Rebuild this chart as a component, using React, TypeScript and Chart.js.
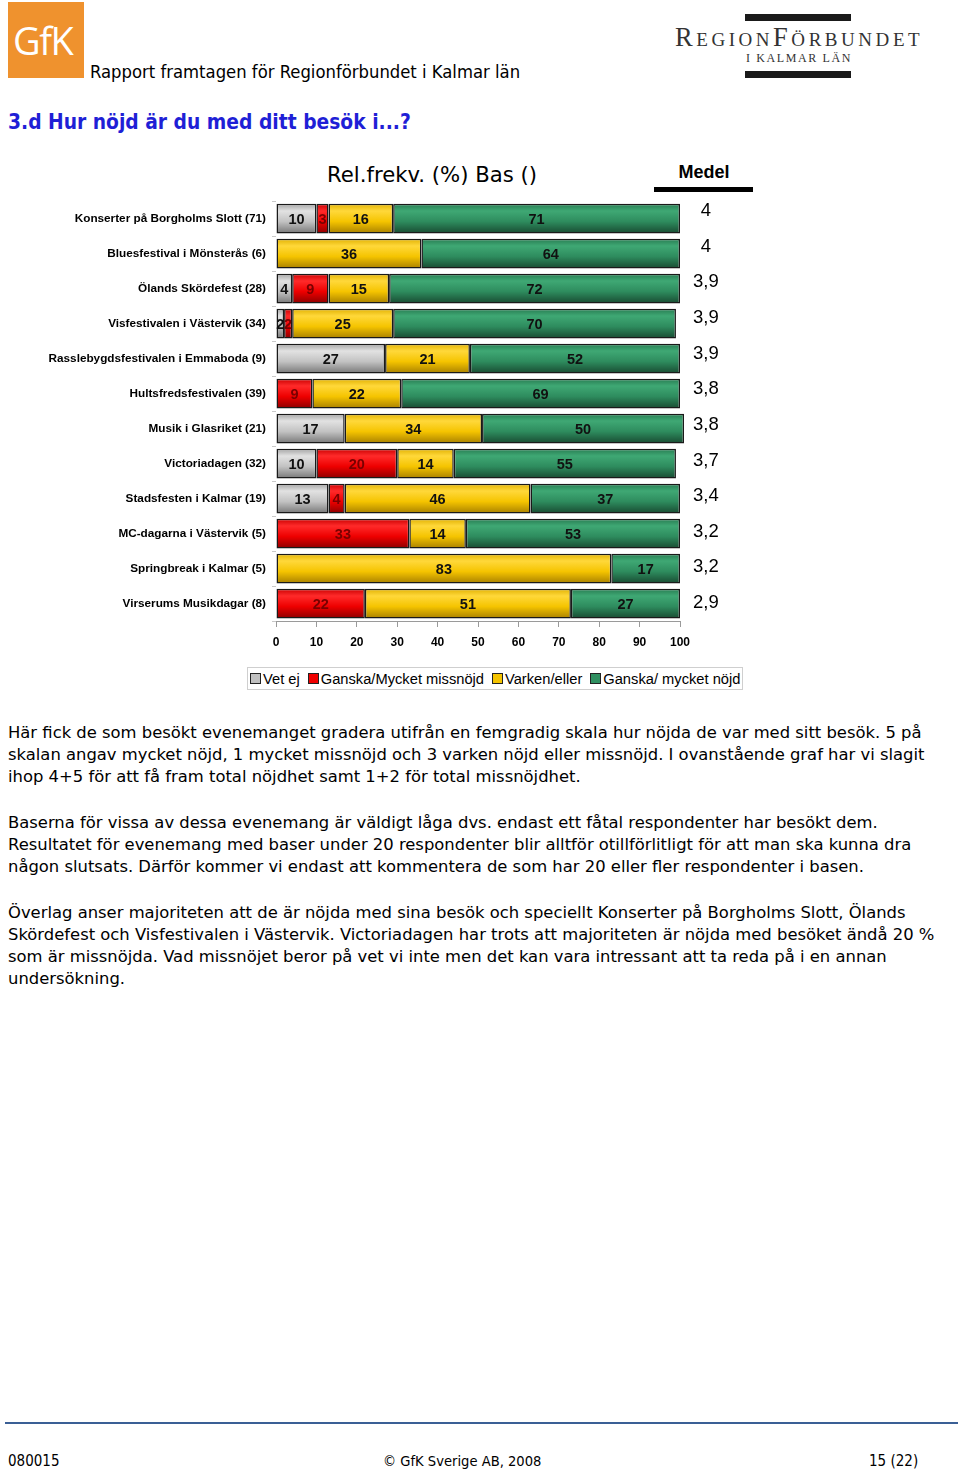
import React, { useEffect, useRef } from 'react';
import { Chart, registerables } from 'chart.js';

Chart.register(...registerables);

// ---------- DATA ----------
const categories = [
  'Konserter på Borgholms Slott (71)',
  'Bluesfestival i Mönsterås (6)',
  'Ölands Skördefest (28)',
  'Visfestivalen i Västervik (34)',
  'Rasslebygdsfestivalen i Emmaboda (9)',
  'Hultsfredsfestivalen (39)',
  'Musik i Glasriket (21)',
  'Victoriadagen (32)',
  'Stadsfesten i Kalmar (19)',
  'MC-dagarna i Västervik (5)',
  'Springbreak i Kalmar (5)',
  'Virserums Musikdagar (8)',
];
const vetEj = [10, 0, 4, 2, 27, 0, 17, 10, 13, 0, 0, 0];
const missnojd = [3, 0, 9, 2, 0, 9, 0, 20, 4, 33, 0, 22];
const varken = [16, 36, 15, 25, 21, 22, 34, 14, 46, 14, 83, 51];
const nojd = [71, 64, 72, 70, 52, 69, 50, 55, 37, 53, 17, 27];
const medel = ['4', '4', '3,9', '3,9', '3,9', '3,8', '3,8', '3,7', '3,4', '3,2', '3,2', '2,9'];
const seriesNames = ['Vet ej', 'Ganska/Mycket missnöjd', 'Varken/eller', 'Ganska/ mycket nöjd'];
const xMin = 0;
const xMax = 100;
const xStep = 10;

// ---------- STYLE ----------
const seriesColors = ['#c0c0c0', '#f00000', '#f5c400', '#2f8f60'];
const seriesGradients = [
  ['#a0a0a0', '#e2e2e2', '#c2c2c2', '#777777'],
  ['#c80000', '#ff2a2a', '#ee0000', '#8c0000'],
  ['#e0b000', '#ffd83a', '#f5c400', '#a88000'],
  ['#267a50', '#3fa874', '#2e8c5e', '#184a31'],
];
const labelColors = ['#111111', '#7a0000', '#111111', '#111111'];
const ARIAL = '"Liberation Sans", Arial, sans-serif';
const MEDEL_MIN = -0.28;
const MEDEL_MAX = 11.505;

const seriesValues = [vetEj, missnojd, varken, nojd];

const segmentLabels = {
  id: 'segmentLabels',
  afterDatasetsDraw(chart: any) {
    const ctx = chart.ctx;
    ctx.save();
    ctx.font = `bold 14.5px ${ARIAL}`;
    ctx.textAlign = 'center';
    ctx.textBaseline = 'middle';
    chart.data.datasets.forEach((ds: any, di: number) => {
      const meta = chart.getDatasetMeta(di);
      meta.data.forEach((bar: any, i: number) => {
        const v = ds.data[i];
        if (!v) return;
        const cx = (bar.x + bar.base) / 2;
        ctx.fillStyle = labelColors[di];
        ctx.fillText(String(v), cx, bar.y + 1);
      });
    });
    ctx.restore();
  },
};

function makeBg(di: number) {
  return (c: any) => {
    if (c.type !== 'data') return seriesColors[di];
    const chart = c.chart;
    const ys = chart.scales && chart.scales.y;
    if (!ys || !chart.chartArea) return seriesColors[di];
    const yc = ys.getPixelForValue(c.dataIndex);
    const h = 15;
    const g = chart.ctx.createLinearGradient(0, yc - h, 0, yc + h);
    const st = seriesGradients[di];
    g.addColorStop(0, st[0]);
    g.addColorStop(0.25, st[1]);
    g.addColorStop(0.6, st[2]);
    g.addColorStop(1, st[3]);
    return g;
  };
}

function BarChart() {
  const ref = useRef<HTMLCanvasElement>(null);
  useEffect(() => {
    if (!ref.current) return;
    const chart = new Chart(ref.current, {
      type: 'bar',
      data: {
        labels: categories,
        datasets: seriesValues.map((vals, di) => ({
          label: seriesNames[di],
          data: vals,
          backgroundColor: makeBg(di),
          borderColor: '#1a1a1a',
          borderWidth: 1.5,
          borderSkipped: false,
          barPercentage: 0.85,
          categoryPercentage: 1,
          clip: false,
        })),
      },
      options: {
        indexAxis: 'y',
        animation: false,
        responsive: false,
        maintainAspectRatio: false,
        layout: { padding: { top: 6, left: 0, right: 0, bottom: 0 } },
        plugins: {
          legend: { display: false },
          tooltip: { enabled: false },
          title: { display: false },
        },
        scales: {
          x: {
            type: 'linear',
            stacked: true,
            min: xMin,
            max: xMax,
            ticks: {
              stepSize: xStep,
              color: '#000',
              font: { family: ARIAL, size: 12, weight: 'bold' },
              padding: 8,
            },
            grid: { drawOnChartArea: false, tickLength: 6, color: '#9a9a9a' },
            border: { color: '#9a9a9a' },
            afterFit: (s: any) => { s.height = 40; s.paddingLeft = 0; s.paddingRight = 0; },
          },
          y: {
            type: 'category',
            stacked: true,
            ticks: {
              color: '#000',
              font: { family: ARIAL, size: 11.75, weight: 'bold' },
              padding: 6,
            },
            grid: { drawOnChartArea: false, tickLength: 4, color: '#c8c8c8' },
            border: { display: false },
            afterFit: (s: any) => { s.width = 276; s.paddingTop = 0; s.paddingBottom = 0; },
          },
          // Medel column: its own index axis, slightly more widely spaced than the bars (as in the original)
          y2: {
            type: 'linear',
            position: 'right',
            reverse: true,
            offset: false,
            bounds: 'data',
            min: MEDEL_MIN,
            max: MEDEL_MAX,
            afterBuildTicks: (s: any) => {
              s.ticks = medel.map((_, i) => ({ value: i }));
              s.min = MEDEL_MIN;
              s.max = MEDEL_MAX;
            },
            ticks: {
              color: '#000',
              font: { family: ARIAL, size: 18.5 },
              crossAlign: 'center',
              padding: 5,
              autoSkip: false,
              callback: (v: any) => medel[v] ?? '',
            },
            grid: { display: false, offset: false },
            border: { display: false },
            afterFit: (s: any) => { s.width = 80; s.paddingTop = 0; s.paddingBottom = 0; },
          },
        },
      },
      plugins: [segmentLabels],
    } as any);
    return () => chart.destroy();
  }, []);
  return <canvas ref={ref} width={760} height={466} style={{ position: 'absolute', left: 0, top: 195 }} />;
}

const abs = (s: React.CSSProperties): React.CSSProperties => ({ position: 'absolute', whiteSpace: 'nowrap', ...s });

const BODY = '"DejaVu Sans", Verdana, sans-serif';
const bodyLines: [string, number][] = [
  ['Här fick de som besökt evenemanget gradera utifrån en femgradig skala hur nöjda de var med sitt besök. 5 på', 733],
  ['skalan angav mycket nöjd, 1 mycket missnöjd och 3 varken nöjd eller missnöjd. I ovanstående graf har vi slagit', 755],
  ['ihop 4+5 för att få fram total nöjdhet samt 1+2 för total missnöjdhet.', 777],
  ['Baserna för vissa av dessa evenemang är väldigt låga dvs. endast ett fåtal respondenter har besökt dem.', 823],
  ['Resultatet för evenemang med baser under 20 respondenter blir alltför otillförlitligt för att man ska kunna dra', 845],
  ['någon slutsats. Därför kommer vi endast att kommentera de som har 20 eller fler respondenter i basen.', 867],
  ['Överlag anser majoriteten att de är nöjda med sina besök och speciellt Konserter på Borgholms Slott, Ölands', 913],
  ['Skördefest och Visfestivalen i Västervik. Victoriadagen har trots att majoriteten är nöjda med besöket ändå 20 %', 935],
  ['som är missnöjda. Vad missnöjet beror på vet vi inte men det kan vara intressant att ta reda på i en annan', 957],
  ['undersökning.', 979],
];

export default function App() {
  return (
    <div style={{ position: 'absolute', left: 0, top: 0, width: 960, height: 1471, background: '#fff', overflow: 'hidden' }}>
      {/* GfK logo */}
      <div style={abs({ left: 8, top: 2, width: 76, height: 76, background: '#ef922e' })}>
        <div style={abs({ left: 5, top: 16, color: '#fff', fontFamily: '"Open Sans", "Noto Sans", sans-serif', fontSize: 38, letterSpacing: -1.5, lineHeight: '44px' })}>GfK</div>
      </div>
      <div style={abs({ left: 90, top: 61, fontFamily: '"Liberation Sans Narrow", "DejaVu Sans Condensed", sans-serif', fontSize: 18.3, color: '#000' })}>
        Rapport framtagen för Regionförbundet i Kalmar län
      </div>
      {/* Regionförbundet logo */}
      <div style={abs({ left: 745, top: 14, width: 106, height: 7, background: '#1a1a1a' })} />
      <div style={abs({ left: 675, top: 22, fontFamily: '"Liberation Serif", serif', fontSize: 26.5, fontVariant: 'small-caps', color: '#333', letterSpacing: 3.55 })}>
        RegionFörbundet
      </div>
      <div style={abs({ left: 745, top: 51, width: 108, textAlign: 'center', fontFamily: '"Liberation Serif", serif', fontSize: 12, color: '#333', letterSpacing: 1.6 })}>
        I KALMAR LÄN
      </div>
      <div style={abs({ left: 745, top: 71, width: 106, height: 7, background: '#1a1a1a' })} />

      <div style={abs({ left: 8, top: 110, fontFamily: '"DejaVu Sans Condensed", "DejaVu Sans", sans-serif', fontWeight: 'bold', fontSize: 20.8, color: '#1f1fd6' })}>
        3.d Hur nöjd är du med ditt besök i...?
      </div>

      {/* chart title and Medel header */}
      <div style={abs({ left: 327, top: 162, fontFamily: '"DejaVu Sans", sans-serif', fontSize: 21.2, color: '#000' })}>
        Rel.frekv. (%) Bas ()
      </div>
      <div style={abs({ left: 654, top: 162, width: 100, textAlign: 'center', fontFamily: ARIAL, fontWeight: 'bold', fontSize: 18, color: '#000' })}>
        Medel
      </div>
      <div style={abs({ left: 654, top: 187, width: 99, height: 5, background: '#000' })} />

      <BarChart />

      {/* legend */}
      <div style={abs({ left: 247, top: 667, width: 496, height: 23, border: '1px solid #cfcfcf', boxSizing: 'border-box', display: 'flex', alignItems: 'center', paddingLeft: 2, fontFamily: ARIAL, fontSize: 14.7, color: '#000' })}>
        {seriesNames.map((n, i) => (
          <span key={n} style={{ display: 'flex', alignItems: 'center', marginRight: 8 }}>
            <span style={{ display: 'inline-block', width: 9, height: 9, background: seriesColors[i], border: '1px solid #222', marginRight: 2 }} />
            {n}
          </span>
        ))}
      </div>

      {bodyLines.map(([t, y]) => (
        <div key={t} style={abs({ left: 8, top: y - 11, fontFamily: BODY, fontSize: 16.4, color: '#000', lineHeight: '22px' })}>{t}</div>
      ))}

      {/* footer */}
      <div style={abs({ left: 5, top: 1422, width: 953, height: 2, background: '#3a5f95' })} />
      <div style={abs({ left: 8, top: 1452, fontFamily: '"DejaVu Sans Condensed", sans-serif', fontSize: 15, color: '#000' })}>080015</div>
      <div style={abs({ left: 383, top: 1452, fontFamily: '"DejaVu Sans Condensed", sans-serif', fontSize: 14.6, color: '#000' })}>© GfK Sverige AB, 2008</div>
      <div style={abs({ left: 869, top: 1452, fontFamily: '"DejaVu Sans Condensed", sans-serif', fontSize: 15, color: '#000' })}>15 (22)</div>
    </div>
  );
}
